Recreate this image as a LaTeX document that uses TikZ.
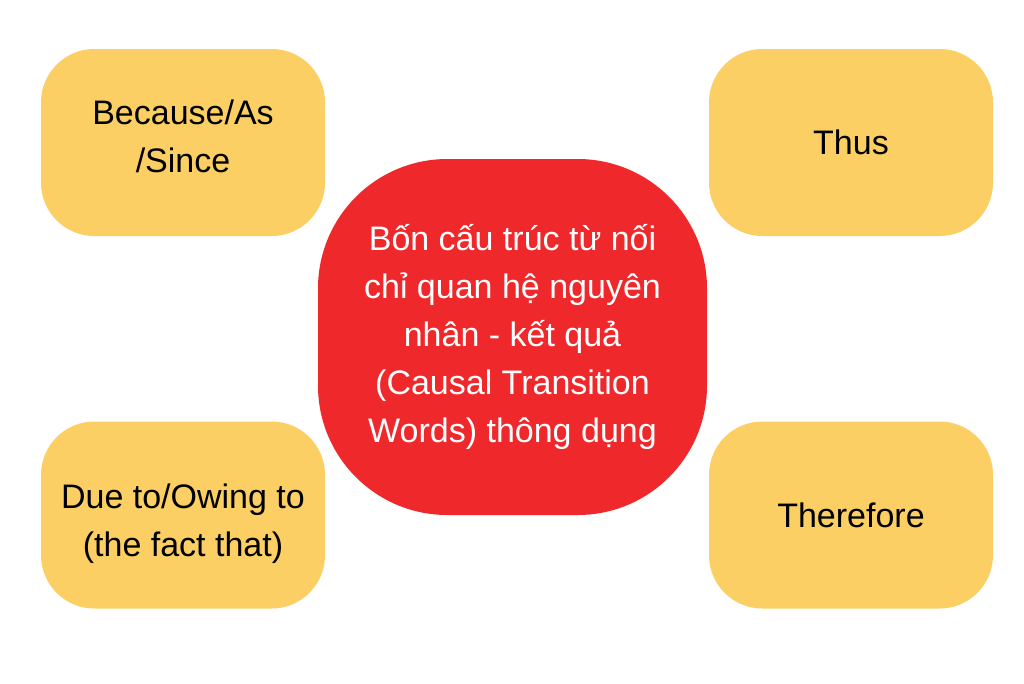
\documentclass[tikz,border=0pt]{standalone}
\usepackage{fontspec}
\setmainfont{Liberation Sans}
\usepackage{xcolor}
\usepackage{tikz}
\usetikzlibrary{positioning}

\definecolor{boxyellow}{HTML}{FBCF63}
\definecolor{boxred}{HTML}{EE282B}

\tikzset{
	wordbox/.style={fill=boxyellow, draw=none, rounded corners=40pt,
		minimum width=213pt, minimum height=140.25pt, inner sep=0pt,
		align=center, text=black, font=\fontsize{25.5}{36}\selectfont},
	mainbox/.style={fill=boxred, draw=none, rounded corners=97pt,
		minimum width=291.75pt, minimum height=267pt, inner sep=0pt,
		align=center, text=white, font=\fontsize{25.5}{36}\selectfont}
}

\begin{document}
\begin{tikzpicture}[x=0.75pt, y=-0.75pt]
	
	% Khung
	\useasboundingbox[fill=white] (0,0) rectangle (1024,683);
	
	% Trung tam
	\node[mainbox] (main) at (512.5,337)
	{Bốn cấu trúc từ nối\\chỉ quan hệ nguyên\\nhân - kết quả\\(Causal Transition\\Words) thông dụng};
	
	% Cac tu noi
	\node[wordbox, text depth=9pt] (because) at (183,142.5) {Because/As\\/Since};
	\node[wordbox] (thus) at (851,142.5) {Thus};
	\node[wordbox, text height=68pt] (dueto) at (183,515) {Due to/Owing to\\(the fact that)};
	\node[wordbox] (therefore) at (851,515) {Therefore};
	
\end{tikzpicture}
\end{document}
